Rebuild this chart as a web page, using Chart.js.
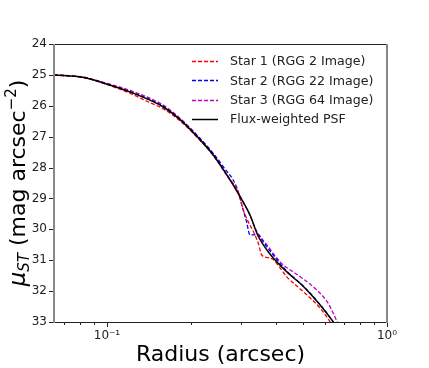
<!DOCTYPE html>
<html>
<head>
<meta charset="utf-8">
<script src="https://cdn.jsdelivr.net/npm/chart.js@4.4.0/dist/chart.umd.min.js"></script>
<style>
  html, body { margin: 0; padding: 0; background: #fff; }
  #myChart { display: block; }
</style>
</head>
<body>
<canvas id="myChart" width="429" height="368"></canvas>
<script>
// data
const seriesNames = ['Star 1 (RGG 2 Image)', 'Star 2 (RGG 22 Image)', 'Star 3 (RGG 64 Image)', 'Flux-weighted PSF'];

const radiusStar1 = [0.0647, 0.082, 0.097, 0.124, 0.140, 0.159, 0.182, 0.215, 0.240, 0.268, 0.2986, 0.303, 0.347, 0.357, 0.377, 0.393, 0.415, 0.438, 0.503, 0.577, 0.626, 0.70];
const muStar1     = [25.0, 25.08, 25.27, 25.64, 25.87, 26.10, 26.48, 27.12, 27.62, 28.26, 28.95, 29.21, 30.45, 30.83, 30.92, 30.98, 31.25, 31.53, 32.02, 32.55, 32.99, 33.7];

const radiusStar2 = [0.0647, 0.082, 0.097, 0.124, 0.159, 0.182, 0.215, 0.240, 0.260, 0.290, 0.303, 0.315, 0.324, 0.347, 0.361, 0.398, 0.438, 0.503, 0.577, 0.635, 0.70];
const muStar2     = [25.0, 25.08, 25.26, 25.58, 26.02, 26.42, 27.06, 27.55, 27.97, 28.62, 29.21, 29.75, 30.18, 30.18, 30.40, 30.90, 31.35, 31.84, 32.44, 32.93, 33.5];

const radiusStar3 = [0.0647, 0.082, 0.097, 0.124, 0.159, 0.182, 0.215, 0.240, 0.268, 0.2986, 0.324, 0.342, 0.376, 0.415, 0.489, 0.561, 0.616, 0.664, 0.72];
const muStar3     = [25.0, 25.07, 25.24, 25.54, 25.98, 26.40, 27.06, 27.57, 28.22, 28.92, 29.55, 30.05, 30.55, 31.05, 31.53, 31.96, 32.39, 32.99, 33.6];

const radiusPSF = [0.0647, 0.082, 0.097, 0.124, 0.159, 0.182, 0.215, 0.240, 0.268, 0.2986, 0.324, 0.346, 0.382, 0.438, 0.503, 0.577, 0.635, 0.70];
const muPSF     = [25.0, 25.08, 25.26, 25.59, 26.04, 26.44, 27.10, 27.60, 28.24, 28.94, 29.53, 30.20, 30.80, 31.37, 31.85, 32.45, 32.93, 33.5];

const xTickValues = [0.07, 0.08, 0.09, 0.1, 0.2, 0.3, 0.4, 0.5, 0.6, 0.7, 0.8, 0.9, 1];
const xTickLabels = { 0.1: '10\u207B\u00B9', 1: '10\u2070' };

const lineColors = ['#ff0000', '#0000ff', '#bf00bf', '#000000'];
const lineDashes = [[4, 2], [4, 2], [4, 2], []];

function toPoints(xs, ys) {
    return xs.map((x, i) => ({ x: x, y: ys[i] }));
}

const allRadius = [radiusStar1, radiusStar2, radiusStar3, radiusPSF];
const allMu = [muStar1, muStar2, muStar3, muPSF];

const datasets = seriesNames.map((name, i) => ({
    label: name,
    data: toPoints(allRadius[i], allMu[i]),
    borderColor: lineColors[i],
    borderDash: lineDashes[i],
    borderWidth: i === 3 ? 1.5 : 1.3,
    pointRadius: 0,
    cubicInterpolationMode: 'monotone',
    fill: false,
    order: i === 3 ? 0 : 1
}));

// frame, tick marks, y title with sub/superscript, legend
const decorations = {
    id: 'decorations',
    afterDraw(chart) {
        const c = chart.ctx;
        const a = chart.chartArea;
        const xs = chart.scales.x, ys = chart.scales.y;
        c.save();

        // tick marks
        c.strokeStyle = '#222';
        c.lineWidth = 1;
        xs.ticks.forEach(t => {
            const px = Math.round(xs.getPixelForValue(t.value)) + 0.5;
            const len = (t.value === 0.1 || t.value === 1) ? 5 : 3;
            c.beginPath();
            c.moveTo(px, a.bottom);
            c.lineTo(px, a.bottom + len);
            c.stroke();
        });
        ys.ticks.forEach(t => {
            const py = Math.round(ys.getPixelForValue(t.value)) + 0.5;
            c.beginPath();
            c.moveTo(a.left - 5, py);
            c.lineTo(a.left, py);
            c.stroke();
        });

        // spines
        c.strokeStyle = '#222';
        c.lineWidth = 1;
        c.beginPath();
        c.moveTo(a.left, Math.round(a.top) + 0.5);
        c.lineTo(a.right, Math.round(a.top) + 0.5);
        c.moveTo(a.left, Math.round(a.bottom) + 0.5);
        c.lineTo(a.right, Math.round(a.bottom) + 0.5);
        c.stroke();
        c.strokeStyle = '#888';
        c.lineWidth = 2;
        c.beginPath();
        c.moveTo(a.left, a.top);
        c.lineTo(a.left, a.bottom + 1);
        c.moveTo(a.right, a.top);
        c.lineTo(a.right, a.bottom + 1);
        c.stroke();

        // y axis title
        c.save();
        c.translate(25, (a.top + a.bottom) / 2);
        c.rotate(-Math.PI / 2);
        c.fillStyle = '#000';
        c.textBaseline = 'alphabetic';
        const parts = [
            { t: '\u03BC', f: 'italic 23px "DejaVu Sans"', dy: 0 },
            { t: 'ST', f: 'italic 15px "DejaVu Sans"', dy: 4 },
            { t: ' (mag arcsec', f: '22px "DejaVu Sans"', dy: 0 },
            { t: '\u22122', f: '15px "DejaVu Sans"', dy: -9 },
            { t: ')', f: '22px "DejaVu Sans"', dy: 0 }
        ];
        let total = 0;
        parts.forEach(p => { c.font = p.f; p.w = c.measureText(p.t).width; total += p.w; });
        let x0 = -total / 2;
        parts.forEach(p => {
            c.font = p.f;
            c.fillText(p.t, x0, p.dy);
            x0 += p.w;
        });
        c.restore();

        // legend
        c.font = '12.6px "DejaVu Sans"';
        c.textBaseline = 'middle';
        c.fillStyle = '#222';
        chart.data.datasets.forEach((ds, i) => {
            const y = 61 + i * 19.3;
            c.strokeStyle = ds.borderColor;
            c.lineWidth = ds.borderWidth;
            c.setLineDash(ds.borderDash);
            c.beginPath();
            c.moveTo(192, Math.round(y) + 0.5);
            c.lineTo(218, Math.round(y) + 0.5);
            c.stroke();
            c.setLineDash([]);
            c.fillText(ds.label, 230, y + 1);
        });

        c.restore();
    }
};

new Chart(document.getElementById('myChart'), {
    type: 'line',
    data: { datasets: datasets },
    options: {
        responsive: false,
        animation: false,
        layout: { padding: { left: 0, top: 44, right: 42, bottom: 0 } },
        plugins: {
            legend: { display: false },
            tooltip: { enabled: false }
        },
        scales: {
            x: {
                type: 'logarithmic',
                min: 0.0647,
                max: 1,
                afterBuildTicks: scale => {
                    scale.ticks = xTickValues.map(v => ({ value: v }));
                },
                afterFit: scale => { scale.height = 46; },
                grid: { display: false, drawTicks: true, tickLength: 5 },
                border: { display: false },
                ticks: {
                    autoSkip: false,
                    maxRotation: 0,
                    padding: 2,
                    color: '#222',
                    font: { family: 'DejaVu Sans', size: 12 },
                    callback: v => xTickLabels[v] || ''
                },
                title: {
                    display: true,
                    text: 'Radius (arcsec)',
                    color: '#000',
                    font: { family: 'DejaVu Sans', size: 22 },
                    padding: { top: 0, bottom: 0 }
                }
            },
            y: {
                reverse: true,
                min: 24,
                max: 33,
                afterFit: scale => { scale.width = 54; },
                grid: { display: false, drawTicks: true, tickLength: 5 },
                border: { display: false },
                ticks: {
                    stepSize: 1,
                    padding: 2,
                    color: '#222',
                    font: { family: 'DejaVu Sans', size: 12 }
                }
            }
        }
    },
    plugins: [decorations]
});
</script>
</body>
</html>
